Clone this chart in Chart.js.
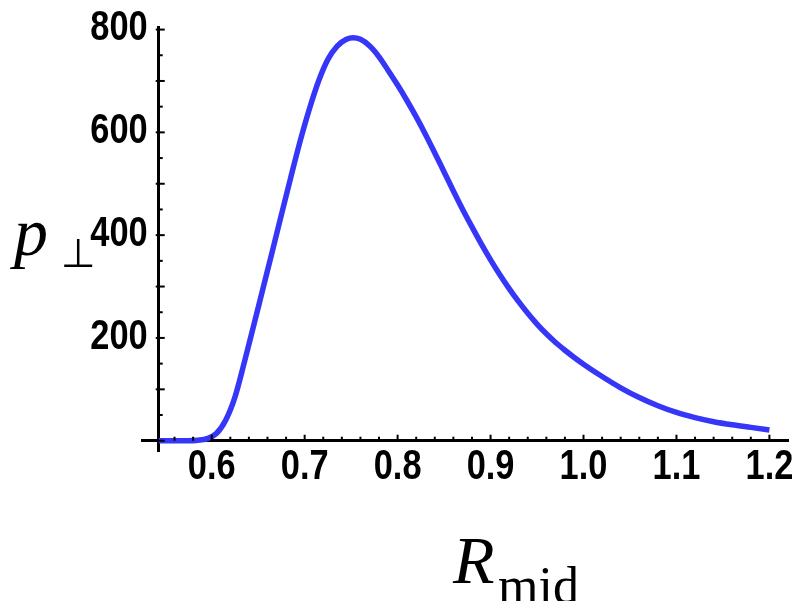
<!DOCTYPE html>
<html>
<head>
<meta charset="utf-8">
<script src="https://cdn.jsdelivr.net/npm/chart.js@4.4.1/dist/chart.umd.min.js"></script>
<style>
  html, body { margin: 0; padding: 0; background: #fff; }
  #plot { display: block; }
</style>
</head>
<body>
<canvas id="plot" width="803" height="601"></canvas>
<script>
// values
const rMid = [0.543, 0.56, 0.575, 0.585, 0.595, 0.605, 0.615, 0.625, 0.635, 0.645,
  0.655, 0.665, 0.675, 0.685, 0.695, 0.705, 0.715, 0.725, 0.735, 0.745,
  0.752, 0.76, 0.77, 0.78, 0.79, 0.80, 0.81, 0.82, 0.83, 0.84,
  0.85, 0.86, 0.87, 0.88, 0.89, 0.90, 0.91, 0.92, 0.93, 0.94,
  0.95, 0.96, 0.97, 0.98, 0.99, 1.00, 1.02, 1.04, 1.06, 1.08,
  1.10, 1.12, 1.14, 1.16, 1.18, 1.20];
const pPerp = [0, 0, 0, 1, 4, 14, 40, 85, 152, 223,
  295, 367, 440, 512, 582, 645, 700, 742, 768, 781,
  784, 781, 768, 747, 720, 692, 662, 630, 596, 560,
  523, 486, 450, 416, 383, 352, 323, 296, 271, 248,
  227, 208, 191, 176, 162, 149, 125, 103, 84, 68,
  55, 45, 37, 31, 26, 21];

const xTicks = [0.6, 0.7, 0.8, 0.9, 1.0, 1.1, 1.2];
const yTicks = [200, 400, 600, 800];

const labelFont = "bold 43px 'Liberation Sans', Arial, sans-serif";
const squeeze = 0.8; // the reference labels are set in a narrow face

function narrowText(ctx, text, x, y, align) {
  ctx.save();
  ctx.translate(x, y);
  ctx.scale(squeeze, 1);
  ctx.textAlign = align;
  ctx.fillText(text, 0, 0);
  ctx.restore();
}

// Mathematica-style inward ticks, tick labels and axis titles
const decorations = {
  id: "decorations",
  afterDraw(chart) {
    const { ctx, scales: { x, y } } = chart;
    const x0 = x.getPixelForValue(0.543);
    const y0 = y.getPixelForValue(0);
    ctx.save();
    ctx.strokeStyle = "#000";
    ctx.lineWidth = 2;
    for (let i = 28; i <= 60; i++) {
      const px = x.getPixelForValue(i / 50);
      const len = i % 5 === 0 ? 6 : 4;
      ctx.beginPath();
      ctx.moveTo(px, y0);
      ctx.lineTo(px, y0 - len);
      ctx.stroke();
    }
    for (let v = 0; v <= 800; v += 50) {
      const py = y.getPixelForValue(v);
      const major = v % 100 === 0;
      ctx.beginPath();
      ctx.moveTo(x0 - (major ? 3 : 0), py);
      ctx.lineTo(x0 + (major ? 6 : 4), py);
      ctx.stroke();
    }

    ctx.fillStyle = "#000";
    ctx.font = labelFont;
    ctx.textBaseline = "middle";
    x.ticks.forEach(t => {
      narrowText(ctx, t.value.toFixed(1), x.getPixelForValue(t.value), y0 + 26, "center");
    });
    y.ticks.forEach(t => {
      narrowText(ctx, String(t.value), x0 - 11, y.getPixelForValue(t.value) - 1, "right");
    });

    ctx.textBaseline = "alphabetic";
    ctx.textAlign = "left";
    ctx.font = "italic 68px 'Liberation Serif', 'Times New Roman', serif";
    ctx.fillText("p", 14, 255);
    ctx.font = "40px 'DejaVu Sans', sans-serif";
    ctx.fillText("\u22A5", 61, 267);
    ctx.font = "italic 68px 'Liberation Serif', 'Times New Roman', serif";
    ctx.fillText("R", 453, 583);
    ctx.font = "52px 'Liberation Serif', 'Times New Roman', serif";
    ctx.fillText("mid", 498, 603);
    ctx.restore();
  }
};

new Chart(document.getElementById("plot"), {
  type: "line",
  data: {
    datasets: [{
      data: rMid.map((r, i) => ({ x: r, y: pPerp[i] })),
      borderColor: "#3636f8",
      borderWidth: 5.5,
      pointRadius: 0,
      fill: false,
      cubicInterpolationMode: "monotone"
    }]
  },
  options: {
    responsive: false,
    animation: false,
    layout: { padding: { left: 142, right: 15, top: 27, bottom: 150 } },
    plugins: { legend: { display: false }, tooltip: { enabled: false } },
    scales: {
      x: {
        type: "linear",
        min: 0.525,
        max: 1.22,
        position: { y: 0 },
        grid: { display: false, drawTicks: false },
        border: { display: true, color: "#000", width: 3 },
        afterBuildTicks: (s) => { s.ticks = xTicks.map(v => ({ value: v })); },
        ticks: { display: false }
      },
      y: {
        type: "linear",
        min: -20,
        max: 805,
        position: { x: 0.543 },
        grid: { display: false, drawTicks: false },
        border: { display: true, color: "#000", width: 3 },
        afterBuildTicks: (s) => { s.ticks = yTicks.map(v => ({ value: v })); },
        ticks: { display: false }
      }
    }
  },
  plugins: [decorations]
});
</script>
</body>
</html>
